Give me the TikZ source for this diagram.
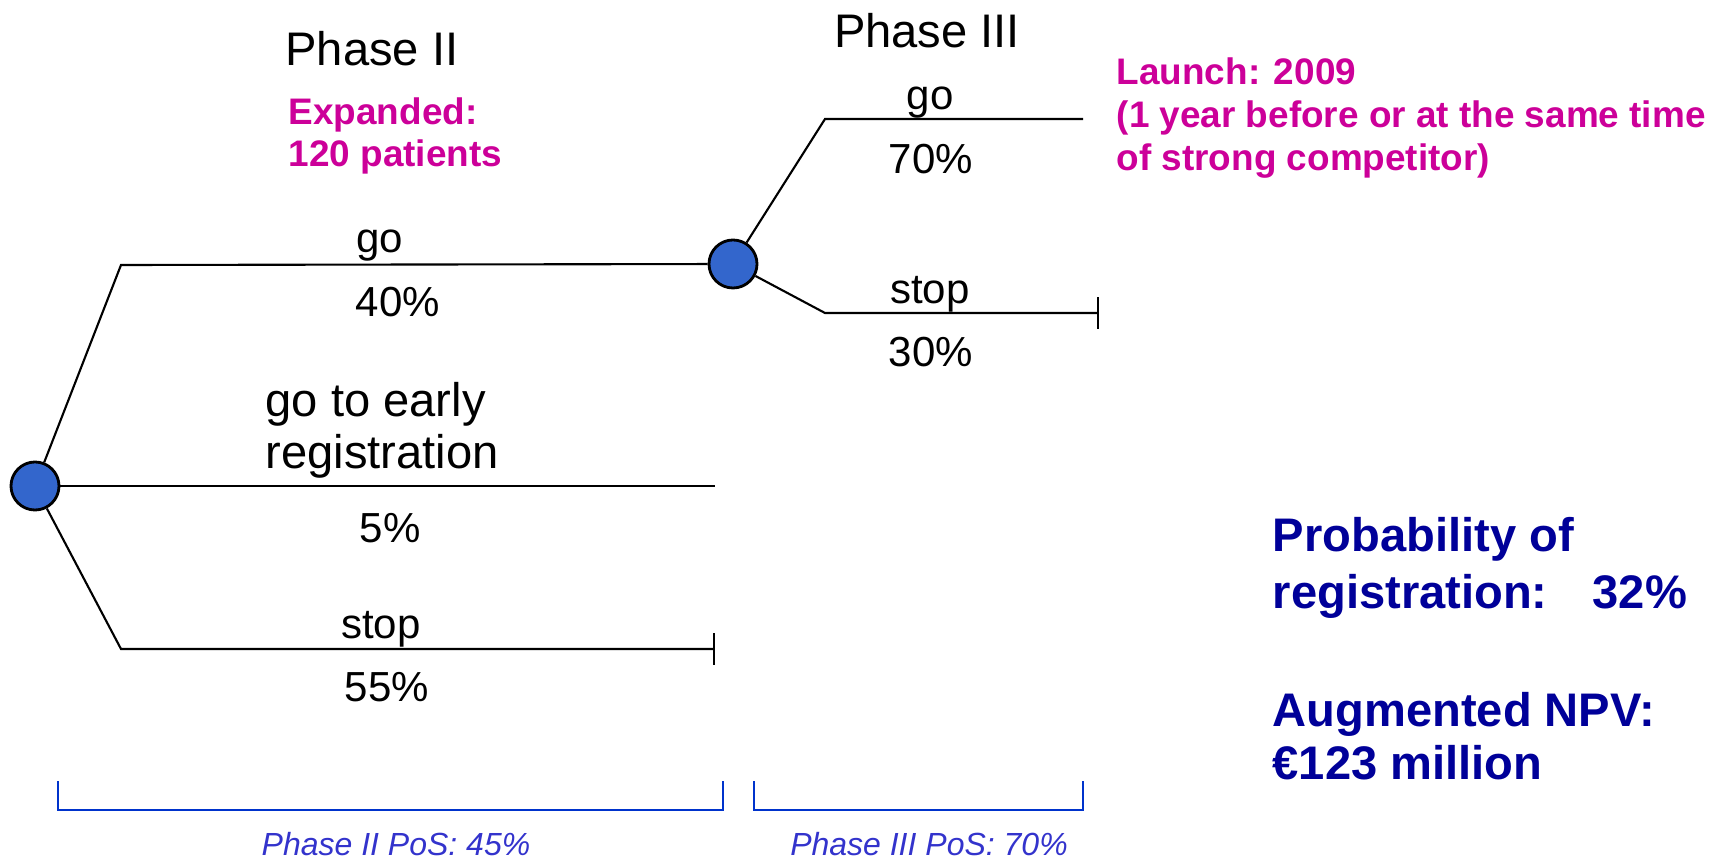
\documentclass[tikz,border=0pt]{standalone}
\usepackage{fontspec}
\setmainfont{Liberation Sans}
\usetikzlibrary{positioning}
\usetikzlibrary{arrows.meta}

\definecolor{nodeblue}{RGB}{51,102,204}
\definecolor{notemagenta}{RGB}{204,0,153}
\definecolor{resultnavy}{RGB}{0,0,153}
\definecolor{posblue}{RGB}{51,51,204}
\definecolor{bracketblue}{RGB}{0,51,204}

\tikzset{
  chance/.style={circle, draw, line width=0.8pt, fill=nodeblue, minimum size=0.48cm, inner sep=0pt},
  branch/.style={line width=0.6pt},
  stopbar/.style={-{Bar[width=0.31cm]}},
  lbl/.style={inner sep=0pt, font=\fontsize{11.95}{14}\selectfont},
  biglbl/.style={inner sep=0pt, align=left, font=\fontsize{13.4}{14.8}\selectfont},
  note/.style={inner sep=0pt, align=left, text=notemagenta, font=\bfseries\fontsize{10.5}{12.2}\selectfont},
  result/.style={inner sep=0pt, align=left, text=resultnavy, font=\bfseries\fontsize{13.4}{16.2}\selectfont},
  poslbl/.style={inner sep=0pt, text=posblue, font=\itshape\fontsize{9.1}{11}\selectfont},
  bracket/.style={draw=bracketblue, line width=0.6pt},
}

\begin{document}
\begin{tikzpicture}[x=0.01cm, y=-0.01cm]
    \useasboundingbox (0,0) rectangle (1724,858);
    % chance nodes
    \node[chance] (n1) at (35,486) {};
    \node[chance] (n2) at (733,264) {};
    % branch corners and ends
    \coordinate (up1) at (121,265);
    \coordinate (mid1) at (715,486);
    \coordinate (low1) at (121,649);
    \coordinate (lowend1) at (715,649);
    \coordinate (up2) at (825,119);
    \coordinate (upend2) at (1083,119);
    \coordinate (low2) at (825,313);
    \coordinate (lowend2) at (1099,313);
    \draw[branch] (n1) -- (up1) -- (n2);
    \draw[branch] (n1) -- (mid1);
    \draw[branch, stopbar] (n1) -- (low1) -- (lowend1);
    \draw[branch] (n2) -- (up2) -- (upend2);
    \draw[branch, stopbar] (n2) -- (low2) -- (lowend2);
    % phase titles
    \node[biglbl] (ph2) at (372,49) {Phase II};
    \node[biglbl] (ph3) at (927,31) {Phase III};
    \node[note, anchor=west] (exp) at (288,136) {Expanded:\\120 patients};
    \node[note, anchor=west] (launch) at (1116,118) {Launch: 2009\\(1 year before or at the same time\\of strong competitor)};
    % branch labels
    \node[lbl] (go1) at (380,246) {go};
    \node[lbl] (p40) at (398,302) {40\%};
    \node[biglbl, anchor=west] (early) at (265,430) {go to early\\registration};
    \node[lbl] (p5) at (390,528) {5\%};
    \node[lbl] (stop1) at (381,629) {stop};
    \node[lbl] (p55) at (387,687) {55\%};
    \node[lbl] (go2) at (930,103) {go};
    \node[lbl] (p70) at (931,159) {70\%};
    \node[lbl] (stop2) at (930,294) {stop};
    \node[lbl] (p30) at (931,352) {30\%};
    % results
    \node[result, anchor=west] (prob) at (1272,568) {Probability of\\registration:\hspace{0.45cm}32\%};
    \node[result, below=0.72cm of prob.south west, anchor=north west, font=\bfseries\fontsize{13.4}{15.2}\selectfont] (npv) {Augmented NPV:\\€123 million};
    % PoS brackets
    \coordinate (b1) at (58,781);
    \coordinate (b2) at (58,810);
    \coordinate (b3) at (723,810);
    \coordinate (b4) at (723,781);
    \draw[bracket] (b1) -- (b2) -- (b3) -- (b4);
    \coordinate (b5) at (754,781);
    \coordinate (b6) at (754,810);
    \coordinate (b7) at (1083,810);
    \coordinate (b8) at (1083,781);
    \draw[bracket] (b5) -- (b6) -- (b7) -- (b8);
    \node[poslbl] (pos2) at (396,844) {Phase II PoS: 45\%};
    \node[poslbl] (pos3) at (929,844) {Phase III PoS: 70\%};
\end{tikzpicture}
\end{document}
